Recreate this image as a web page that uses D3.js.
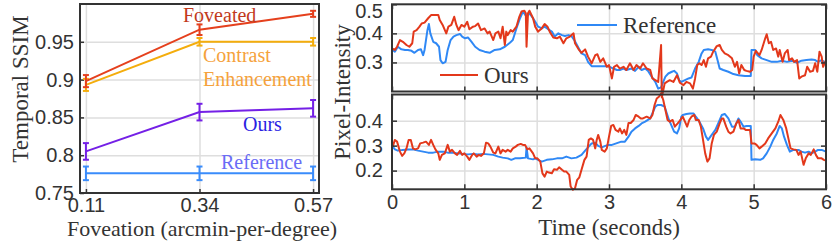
<!DOCTYPE html>
<html>
<head>
<meta charset="utf-8">
<script src="https://cdnjs.cloudflare.com/ajax/libs/d3/7.8.5/d3.min.js"></script>
<style>
  body { margin: 0; background: #fff; }
  svg { font-family: "Liberation Serif", "DejaVu Serif", serif; }
  .grid line { stroke: #dedede; stroke-width: 1.5; }
  .grid path { display: none; }
  .ticks path { display: none; }
  .ticks line { stroke: #333; stroke-width: 1.5; }
  .ticks text { font-size: 20px; fill: #333; }
  .frame { fill: none; stroke: #333; stroke-width: 2; }
  .title { font-size: 23px; fill: #333; }
</style>
</head>
<body>
<svg id="chart" width="832" height="242"></svg>
<script>
// ---- left panel data
var foveation = [0.11, 0.34, 0.57];
var ssimFoveated = [0.898, 0.966, 0.987];
var errFoveated  = [0.008, 0.007, 0.004];
var ssimContrast = [0.893, 0.950, 0.950];
var errContrast  = [0.008, 0.005, 0.005];
var ssimOurs     = [0.805, 0.857, 0.862];
var errOurs      = [0.011, 0.011, 0.011];
var ssimRef      = [0.776, 0.776, 0.776];
var errRef       = [0.009, 0.009, 0.009];
var ssimTicks    = [0.75, 0.8, 0.85, 0.9, 0.95];

// ---- right panels data: [time (s), pixel intensity]
var topOurs = [[0.00,0.348],[0.04,0.343],[0.07,0.354],[0.11,0.377],[0.15,0.371],[0.20,0.360],[0.24,0.354],[0.28,0.366],
  [0.30,0.406],[0.34,0.411],[0.38,0.423],[0.41,0.434],[0.45,0.437],[0.50,0.452],[0.54,0.463],[0.59,0.463],[0.64,0.463],
  [0.66,0.446],[0.70,0.429],[0.75,0.400],[0.78,0.423],[0.82,0.429],[0.86,0.457],[0.89,0.429],[0.92,0.411],[0.96,0.429],
  [1.00,0.423],[1.04,0.440],[1.07,0.414],[1.12,0.423],[1.15,0.425],[1.19,0.434],[1.23,0.411],[1.28,0.417],[1.32,0.400],
  [1.35,0.406],[1.40,0.377],[1.43,0.400],[1.47,0.406],[1.50,0.383],[1.53,0.423],[1.56,0.360],[1.58,0.406],[1.60,0.394],
  [1.64,0.411],[1.67,0.406],[1.72,0.423],[1.76,0.457],[1.79,0.475],[1.83,0.478],[1.85,0.469],[1.86,0.354],[1.88,0.469],
  [1.90,0.478],[1.95,0.452],[1.98,0.423],[2.02,0.406],[2.07,0.417],[2.11,0.432],[2.15,0.423],[2.18,0.406],[2.23,0.386],
  [2.28,0.383],[2.32,0.389],[2.37,0.366],[2.41,0.383],[2.46,0.389],[2.51,0.400],[2.53,0.366],[2.58,0.345],[2.62,0.333],
  [2.67,0.345],[2.71,0.320],[2.76,0.297],[2.81,0.325],[2.84,0.328],[2.88,0.302],[2.92,0.314],[2.97,0.285],[3.00,0.291],
  [3.04,0.245],[3.07,0.285],[3.11,0.291],[3.15,0.279],[3.20,0.285],[3.24,0.274],[3.29,0.297],[3.34,0.274],[3.38,0.291],
  [3.43,0.279],[3.47,0.297],[3.52,0.279],[3.57,0.274],[3.60,0.245],[3.64,0.239],[3.68,0.233],[3.72,0.360],[3.73,0.180],
  [3.77,0.228],[3.80,0.233],[3.84,0.239],[3.89,0.233],[3.94,0.256],[3.98,0.230],[4.03,0.222],[4.07,0.233],[4.12,0.228],
  [4.16,0.210],[4.19,0.245],[4.22,0.291],[4.25,0.297],[4.28,0.291],[4.31,0.308],[4.34,0.285],[4.37,0.314],[4.41,0.320],
  [4.44,0.337],[4.49,0.356],[4.53,0.360],[4.56,0.343],[4.60,0.331],[4.65,0.325],[4.70,0.314],[4.74,0.285],[4.77,0.302],
  [4.80,0.262],[4.83,0.291],[4.87,0.274],[4.90,0.271],[4.95,0.268],[4.98,0.274],[5.00,0.320],[5.03,0.340],[5.08,0.325],
  [5.11,0.343],[5.16,0.383],[5.18,0.397],[5.21,0.366],[5.24,0.371],[5.27,0.343],[5.31,0.348],[5.34,0.320],[5.36,0.343],
  [5.40,0.302],[5.43,0.331],[5.47,0.343],[5.49,0.308],[5.53,0.314],[5.56,0.302],[5.60,0.308],[5.63,0.245],[5.66,0.251],
  [5.71,0.256],[5.74,0.285],[5.78,0.268],[5.82,0.271],[5.85,0.297],[5.88,0.268],[5.91,0.337],[5.94,0.320],[5.96,0.285],
  [6.00,0.308]];

var topRef = [[0.00,0.345],[0.04,0.337],[0.08,0.354],[0.13,0.345],[0.18,0.343],[0.22,0.343],[0.27,0.340],[0.31,0.333],
  [0.36,0.343],[0.40,0.345],[0.43,0.325],[0.45,0.343],[0.49,0.411],[0.51,0.432],[0.53,0.400],[0.57,0.371],[0.61,0.366],
  [0.65,0.354],[0.67,0.308],[0.70,0.297],[0.74,0.302],[0.77,0.343],[0.81,0.377],[0.85,0.389],[0.89,0.394],[0.94,0.398],
  [0.97,0.389],[1.01,0.383],[1.05,0.386],[1.10,0.371],[1.15,0.354],[1.21,0.343],[1.28,0.337],[1.35,0.333],[1.42,0.343],
  [1.49,0.345],[1.56,0.354],[1.63,0.368],[1.67,0.377],[1.72,0.417],[1.77,0.452],[1.81,0.475],[1.86,0.457],[1.90,0.469],
  [1.95,0.452],[1.98,0.440],[2.02,0.423],[2.07,0.417],[2.11,0.423],[2.16,0.414],[2.21,0.406],[2.25,0.389],[2.30,0.400],
  [2.35,0.394],[2.39,0.391],[2.44,0.394],[2.48,0.391],[2.52,0.377],[2.57,0.354],[2.62,0.331],[2.67,0.325],[2.71,0.302],
  [2.76,0.287],[2.83,0.287],[2.90,0.287],[2.97,0.287],[3.01,0.285],[3.06,0.279],[3.11,0.274],[3.15,0.274],[3.20,0.279],
  [3.24,0.274],[3.31,0.279],[3.36,0.271],[3.41,0.285],[3.45,0.274],[3.50,0.279],[3.54,0.271],[3.59,0.251],[3.64,0.233],
  [3.68,0.210],[3.72,0.214],[3.75,0.233],[3.78,0.251],[3.82,0.262],[3.87,0.268],[3.90,0.271],[3.94,0.262],[3.97,0.239],
  [4.00,0.233],[4.05,0.239],[4.10,0.245],[4.14,0.248],[4.19,0.279],[4.24,0.302],[4.28,0.331],[4.31,0.343],[4.37,0.345],
  [4.42,0.343],[4.47,0.337],[4.50,0.308],[4.53,0.279],[4.58,0.274],[4.65,0.268],[4.72,0.260],[4.79,0.256],[4.88,0.253],
  [4.96,0.253],[4.97,0.343],[5.02,0.343],[5.05,0.325],[5.11,0.314],[5.18,0.308],[5.25,0.302],[5.32,0.302],[5.39,0.306],
  [5.46,0.302],[5.53,0.306],[5.60,0.299],[5.66,0.306],[5.73,0.308],[5.80,0.310],[5.85,0.308],[5.89,0.302],[5.94,0.308],
  [6.00,0.297]];

var botOurs = [[0.01,0.296],[0.04,0.323],[0.07,0.316],[0.11,0.276],[0.14,0.259],[0.17,0.269],[0.20,0.289],[0.23,0.323],
  [0.26,0.323],[0.29,0.289],[0.32,0.285],[0.36,0.289],[0.39,0.309],[0.43,0.312],[0.47,0.316],[0.51,0.303],[0.54,0.323],
  [0.57,0.303],[0.60,0.285],[0.64,0.269],[0.66,0.243],[0.69,0.263],[0.73,0.269],[0.77,0.303],[0.80,0.276],[0.83,0.283],
  [0.87,0.269],[0.90,0.263],[0.94,0.279],[0.97,0.263],[1.00,0.269],[1.04,0.256],[1.07,0.243],[1.11,0.263],[1.13,0.269],
  [1.17,0.256],[1.20,0.263],[1.23,0.259],[1.27,0.269],[1.30,0.312],[1.33,0.309],[1.36,0.296],[1.40,0.272],[1.43,0.269],
  [1.47,0.296],[1.50,0.269],[1.53,0.283],[1.57,0.276],[1.60,0.283],[1.64,0.276],[1.67,0.289],[1.71,0.296],[1.74,0.303],
  [1.78,0.307],[1.81,0.303],[1.84,0.303],[1.87,0.285],[1.90,0.289],[1.95,0.269],[1.98,0.249],[2.01,0.249],[2.05,0.236],
  [2.08,0.189],[2.11,0.176],[2.14,0.196],[2.17,0.192],[2.21,0.189],[2.24,0.205],[2.28,0.203],[2.31,0.213],[2.35,0.203],
  [2.38,0.196],[2.41,0.196],[2.45,0.183],[2.47,0.136],[2.50,0.123],[2.53,0.129],[2.56,0.163],[2.59,0.173],[2.62,0.203],
  [2.66,0.243],[2.69,0.256],[2.72,0.323],[2.75,0.329],[2.78,0.323],[2.81,0.289],[2.83,0.323],[2.85,0.343],[2.88,0.316],
  [2.90,0.283],[2.94,0.276],[2.97,0.289],[3.00,0.336],[3.03,0.379],[3.06,0.383],[3.09,0.363],[3.13,0.356],[3.15,0.369],
  [3.18,0.349],[3.21,0.363],[3.24,0.343],[3.27,0.391],[3.30,0.391],[3.34,0.403],[3.37,0.423],[3.41,0.416],[3.44,0.409],
  [3.47,0.409],[3.52,0.416],[3.57,0.409],[3.60,0.423],[3.63,0.463],[3.66,0.489],[3.69,0.496],[3.72,0.509],[3.75,0.483],
  [3.78,0.443],[3.81,0.403],[3.84,0.396],[3.88,0.403],[3.91,0.376],[3.95,0.389],[3.98,0.400],[4.02,0.416],[4.05,0.396],
  [4.08,0.376],[4.11,0.403],[4.14,0.416],[4.18,0.423],[4.20,0.403],[4.24,0.403],[4.27,0.376],[4.30,0.323],[4.33,0.269],
  [4.36,0.236],[4.39,0.249],[4.42,0.309],[4.45,0.343],[4.49,0.356],[4.53,0.389],[4.56,0.409],[4.58,0.409],[4.62,0.376],
  [4.65,0.356],[4.68,0.349],[4.72,0.356],[4.76,0.389],[4.79,0.403],[4.82,0.369],[4.86,0.369],[4.89,0.363],[4.95,0.363],
  [4.97,0.309],[5.01,0.309],[5.04,0.303],[5.08,0.289],[5.11,0.296],[5.16,0.309],[5.20,0.329],[5.25,0.349],[5.30,0.369],
  [5.34,0.396],[5.37,0.423],[5.41,0.403],[5.45,0.369],[5.48,0.329],[5.51,0.289],[5.55,0.285],[5.59,0.283],[5.62,0.263],
  [5.65,0.276],[5.69,0.223],[5.72,0.249],[5.76,0.269],[5.79,0.263],[5.83,0.285],[5.86,0.263],[5.89,0.249],[5.94,0.249],
  [5.97,0.243],[6.00,0.240]];

var botRef = [[0.01,0.296],[0.04,0.285],[0.08,0.280],[0.15,0.283],[0.22,0.285],[0.29,0.285],[0.36,0.280],[0.43,0.276],
  [0.50,0.272],[0.57,0.272],[0.64,0.276],[0.71,0.276],[0.77,0.272],[0.84,0.272],[0.91,0.269],[0.98,0.267],[1.05,0.265],
  [1.12,0.267],[1.19,0.265],[1.26,0.267],[1.33,0.265],[1.40,0.263],[1.47,0.256],[1.53,0.252],[1.60,0.249],[1.65,0.243],
  [1.70,0.249],[1.77,0.249],[1.85,0.252],[1.86,0.293],[1.88,0.249],[1.95,0.245],[1.98,0.249],[2.02,0.243],[2.07,0.236],
  [2.14,0.243],[2.21,0.245],[2.28,0.249],[2.35,0.249],[2.41,0.256],[2.48,0.249],[2.55,0.252],[2.62,0.263],[2.67,0.280],
  [2.71,0.293],[2.76,0.309],[2.81,0.312],[2.85,0.299],[2.90,0.293],[2.95,0.299],[2.99,0.303],[3.04,0.303],[3.08,0.307],
  [3.13,0.312],[3.17,0.316],[3.22,0.316],[3.27,0.336],[3.31,0.356],[3.36,0.369],[3.41,0.379],[3.45,0.389],[3.50,0.396],
  [3.57,0.409],[3.60,0.429],[3.64,0.456],[3.67,0.463],[3.72,0.463],[3.77,0.456],[3.80,0.429],[3.83,0.403],[3.87,0.376],
  [3.90,0.356],[3.94,0.349],[3.97,0.369],[4.00,0.416],[4.02,0.423],[4.07,0.427],[4.12,0.429],[4.17,0.429],[4.20,0.416],
  [4.25,0.396],[4.30,0.369],[4.34,0.336],[4.37,0.323],[4.42,0.343],[4.47,0.363],[4.51,0.389],[4.56,0.423],[4.60,0.427],
  [4.65,0.409],[4.70,0.376],[4.74,0.376],[4.79,0.409],[4.82,0.396],[4.86,0.376],[4.90,0.379],[4.96,0.379],[4.97,0.243],
  [5.02,0.245],[5.09,0.243],[5.13,0.249],[5.18,0.269],[5.23,0.296],[5.27,0.323],[5.32,0.349],[5.36,0.379],[5.39,0.369],
  [5.42,0.336],[5.46,0.303],[5.50,0.276],[5.55,0.283],[5.62,0.283],[5.66,0.276],[5.71,0.272],[5.76,0.276],[5.80,0.269],
  [5.85,0.276],[5.89,0.283],[5.94,0.283],[6.00,0.276]];

var timeTicks = [0, 1, 2, 3, 4, 5, 6];
var topTicks = [0.3, 0.4, 0.5];
var botTicks = [0.2, 0.3, 0.4];

var red = "#e3381b", blue = "#2f88f5";

var svg = d3.select("#chart");

// =================== left panel ===================
var x1 = d3.scaleLinear().domain([0.098, 0.582]).range([80, 319]),
    y1 = d3.scaleLinear().domain([0.75, 1.0]).range([193, 4]);

svg.append("g").attr("class", "grid")
    .attr("transform", "translate(0,193)")
    .call(d3.axisBottom(x1).tickValues(foveation).tickSize(-189).tickFormat(""));
svg.append("g").attr("class", "grid")
    .attr("transform", "translate(80,0)")
    .call(d3.axisLeft(y1).tickValues(ssimTicks.slice(1)).tickSize(-239).tickFormat(""));

svg.append("g").attr("class", "ticks")
    .attr("transform", "translate(0,193)")
    .call(d3.axisBottom(x1).tickValues(foveation).tickSizeInner(-4).tickSizeOuter(0).tickPadding(4.5));
svg.append("g").attr("class", "ticks")
    .attr("transform", "translate(80,0)")
    .call(d3.axisLeft(y1).tickValues(ssimTicks).tickSizeInner(-4).tickSizeOuter(0).tickPadding(6)
      .tickFormat(function(d) { return String(d); }));

var series1 = [
  {v: ssimRef, e: errRef, c: "#3a8cfb"},
  {v: ssimOurs, e: errOurs, c: "#7420e6"},
  {v: ssimContrast, e: errContrast, c: "#f4ad0c"},
  {v: ssimFoveated, e: errFoveated, c: "#e5401d"}
];
var line1 = d3.line().x(function(d) { return x1(d[0]); }).y(function(d) { return y1(d[1]); });

series1.forEach(function(s) {
  var pts = foveation.map(function(f, i) { return [f, s.v[i], s.e[i]]; });
  svg.append("path").attr("d", line1(pts))
      .attr("fill", "none").attr("stroke", s.c).attr("stroke-width", 2);
  var eb = svg.append("g").selectAll("g").data(pts).enter().append("g")
      .attr("stroke", s.c).attr("stroke-width", 2);
  eb.append("line")
      .attr("x1", function(d) { return x1(d[0]); }).attr("x2", function(d) { return x1(d[0]); })
      .attr("y1", function(d) { return y1(d[1] - d[2]); }).attr("y2", function(d) { return y1(d[1] + d[2]); });
  [-1, 1].forEach(function(sg) {
    eb.append("line")
        .attr("x1", function(d) { return x1(d[0]) - 3; }).attr("x2", function(d) { return x1(d[0]) + 3; })
        .attr("y1", function(d) { return y1(d[1] + sg * d[2]); }).attr("y2", function(d) { return y1(d[1] + sg * d[2]); });
  });
});

svg.append("rect").attr("class", "frame").attr("x", 80).attr("y", 4).attr("width", 239).attr("height", 189);

var notes = [
  {t: "Foveated", x: 183, y: 15, c: "#c23a1c"},
  {t: "Contrast", x: 203, y: 55, c: "#f5a23c"},
  {t: "Enhancement", x: 203, y: 79, c: "#f5a23c"},
  {t: "Ours", x: 243, y: 124, c: "#2b1fe3"},
  {t: "Reference", x: 221, y: 162, c: "#6a6cf6"}
];
svg.selectAll(".note").data(notes).enter().append("text")
    .attr("class", "note")
    .attr("x", function(d) { return d.x; }).attr("y", function(d) { return d.y; })
    .attr("dy", "0.35em").style("font-size", "20px")
    .attr("fill", function(d) { return d.c; })
    .text(function(d) { return d.t; });

svg.append("text").attr("class", "title")
    .attr("transform", "translate(20,89) rotate(-90)")
    .attr("text-anchor", "middle").attr("dy", "0.35em")
    .text("Temporal SSIM");
svg.append("text").attr("class", "title")
    .attr("x", 202).attr("y", 235.5)
    .attr("text-anchor", "middle").style("font-size", "22px")
    .text("Foveation (arcmin-per-degree)");

// =================== right panels ===================
var x2 = d3.scaleLinear().domain([0, 6]).range([392, 826]);
var panels = [
  {y: d3.scaleLinear().domain([0.2, 0.5]).range([91.5, 4.3]), ticks: topTicks, grid: [0.3, 0.4], ours: topOurs, ref: topRef, top: 4.3, bot: 91.5},
  {y: d3.scaleLinear().domain([0.125, 0.505]).range([189.3, 94.5]), ticks: botTicks, grid: [0.2, 0.3, 0.4], ours: botOurs, ref: botRef, top: 94.5, bot: 189.3}
];

panels.forEach(function(p, k) {
  var h = p.bot - p.top;
  var g = svg.append("g");
  g.append("g").attr("class", "grid")
      .attr("transform", "translate(0," + p.bot + ")")
      .call(d3.axisBottom(x2).tickValues(timeTicks.slice(1, 6)).tickSize(-h).tickFormat(""));
  g.append("g").attr("class", "grid")
      .attr("transform", "translate(392,0)")
      .call(d3.axisLeft(p.y).tickValues(p.grid).tickSize(-434).tickFormat(""));

  var line2 = d3.line().x(function(d) { return x2(d[0]); }).y(function(d) { return p.y(d[1]); });
  g.append("path").attr("d", line2(p.ref)).attr("fill", "none")
      .attr("stroke", blue).attr("stroke-width", 2).attr("stroke-linejoin", "round");
  g.append("path").attr("d", line2(p.ours)).attr("fill", "none")
      .attr("stroke", red).attr("stroke-width", 2).attr("stroke-linejoin", "round");

  // inward ticks on all four sides
  g.append("g").attr("class", "ticks").attr("transform", "translate(0," + p.bot + ")")
      .call(d3.axisBottom(x2).tickValues(timeTicks).tickSizeInner(-5).tickSizeOuter(0).tickPadding(6)
        .tickFormat(k === 1 ? d3.format("d") : ""));
  g.append("g").attr("class", "ticks").attr("transform", "translate(0," + p.top + ")")
      .call(d3.axisTop(x2).tickValues(timeTicks).tickSizeInner(-5).tickSizeOuter(0).tickFormat(""));
  var yl = g.append("g").attr("class", "ticks").attr("transform", "translate(392,0)")
      .call(d3.axisLeft(p.y).tickValues(p.ticks).tickSizeInner(-5).tickSizeOuter(0).tickPadding(9)
        .tickFormat(function(d) { return String(d); }));
  g.append("g").attr("class", "ticks").attr("transform", "translate(826,0)")
      .call(d3.axisRight(p.y).tickValues(p.ticks).tickSizeInner(-5).tickSizeOuter(0).tickFormat(""));
  if (k === 0) {
    // top label sits a little below the frame edge, as in the original
    yl.selectAll(".tick").filter(function(d) { return d === 0.5; }).select("text").attr("dy", "0.64em");
  }

  g.append("rect").attr("class", "frame")
      .attr("x", 392).attr("y", p.top).attr("width", 434).attr("height", h);
});

// legend
var legend = [
  {t: "Ours", c: red, x0: 440, x1: 478, y: 75},
  {t: "Reference", c: blue, x0: 577, x1: 617, y: 25}
];
legend.forEach(function(l) {
  svg.append("line").attr("x1", l.x0).attr("x2", l.x1).attr("y1", l.y).attr("y2", l.y)
      .attr("stroke", l.c).attr("stroke-width", 2);
  svg.append("text").attr("x", l.x1 + 6).attr("y", l.y).attr("dy", "0.35em")
      .style("font-size", "23px").attr("fill", "#333").text(l.t);
});

svg.append("text").attr("class", "title")
    .attr("transform", "translate(342,92) rotate(-90)")
    .attr("text-anchor", "middle").attr("dy", "0.35em")
    .text("Pixel-Intensity");
svg.append("text").attr("class", "title")
    .attr("x", 609).attr("y", 227).attr("dy", "0.35em")
    .attr("text-anchor", "middle")
    .text("Time (seconds)");
</script>
</body>
</html>
